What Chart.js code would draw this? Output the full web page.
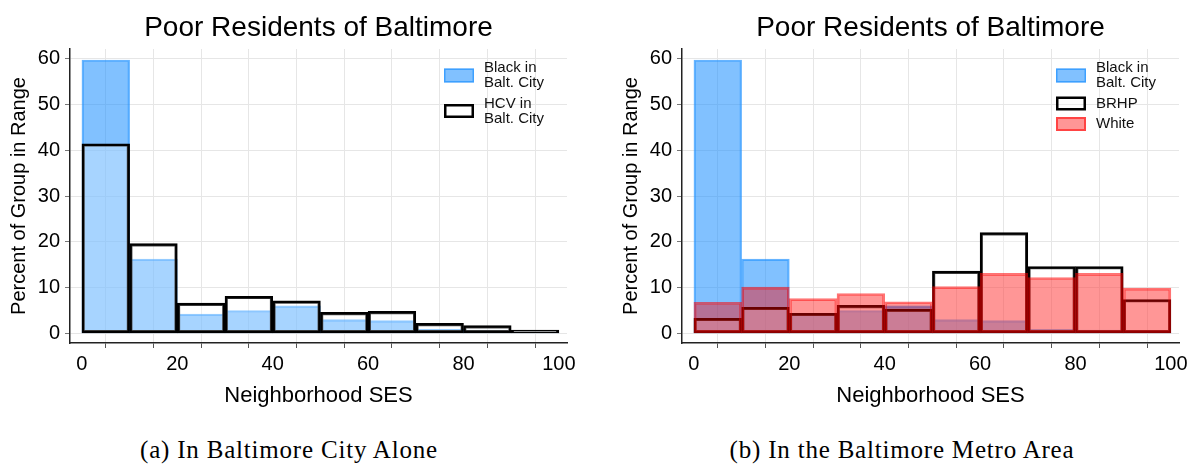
<!DOCTYPE html>
<html>
<head>
<meta charset="utf-8">
<title>Poor Residents of Baltimore</title>
<script src="https://cdn.jsdelivr.net/npm/chart.js@4.4.1/dist/chart.umd.min.js"></script>
<style>
  html, body { margin: 0; padding: 0; background: #fff; }
  body { width: 1194px; height: 468px; position: relative; overflow: hidden; }
  .panel { position: absolute; top: 0; }
  .caption {
    position: absolute; top: 436px; width: 440px; text-align: center;
    font-family: 'Liberation Serif', 'DejaVu Serif', serif; font-size: 25px;
    letter-spacing: 0.8px; color: #000;
  }
</style>
</head>
<body>
<canvas id="cityChart" class="panel" style="left:0" width="582" height="420"></canvas>
<canvas id="metroChart" class="panel" style="left:612px" width="582" height="420"></canvas>
<div class="caption" style="left:69px">(a) In Baltimore City Alone</div>
<div class="caption" style="left:682px">(b) In the Baltimore Metro Area</div>

<script>
// ---------------------------
// Data (percent of group per SES bin)
// ---------------------------
const binCenters = [5, 15, 25, 35, 45, 55, 65, 75, 85, 95];
const xTicks = [0, 10, 20, 30, 40, 50, 60, 70, 80, 90, 100];
const yTicks = [0, 10, 20, 30, 40, 50, 60];

const blackCity = [59.7, 16.2, 4.2, 5.0, 6.0, 3.0, 2.8, 0.9, 0.7, 0.3];
const hcvCity = [41.4, 19.6, 6.6, 8.1, 7.1, 4.6, 4.8, 2.2, 1.7, 0.7];
const brhpMetro = [3.3, 5.7, 4.4, 6.1, 5.3, 13.6, 22.0, 14.6, 14.6, 7.4];
const whiteMetro = [6.8, 10.1, 7.6, 8.7, 6.9, 10.2, 13.1, 12.2, 13.1, 9.9];

const cityLegend = [['Black in', 'Balt. City'], ['HCV in', 'Balt. City']];
const metroLegend = [['Black in', 'Balt. City'], ['BRHP'], ['White']];

const chartTitle = 'Poor Residents of Baltimore';
const xTitle = 'Neighborhood SES';
const yTitle = 'Percent of Group in Range';

// ---------------------------
// Styles
// ---------------------------
const FONT = "'Liberation Sans', Arial, Helvetica, sans-serif";

const blackStyle = {
  backgroundColor: 'rgba(30,144,255,0.56)',
  borderColor: 'rgba(30,144,255,0.68)',
  borderWidth: 1.5
};
const outlineStyle = {
  backgroundColor: 'rgba(255,255,255,0.3)',
  borderColor: '#000',
  borderWidth: 2.5
};
const whiteStyle = {
  backgroundColor: 'rgba(255,0,0,0.41)',
  borderColor: 'rgba(255,0,0,0.55)',
  borderWidth: 2
};

function toPoints(values) {
  return values.map((v, i) => ({ x: binCenters[i], y: v }));
}

// Legend drawn inside the plot, top right
const insetLegend = {
  id: 'insetLegend',
  afterDatasetsDraw(chart, args, opts) {
    const { ctx, chartArea } = chart;
    const x = chartArea.right - 123;
    let y = chartArea.top + 8.75;

    ctx.save();
    ctx.font = '15px ' + FONT;
    ctx.textBaseline = 'middle';
    ctx.textAlign = 'left';

    opts.entries.forEach((lines, i) => {
      const ds = chart.data.datasets[i];
      const h = lines.length * 15 + 5.5;
      const cy = y + h / 2;

      ctx.fillStyle = ds.backgroundColor;
      ctx.fillRect(x, cy - 7, 30, 14);
      ctx.lineWidth = ds.borderWidth;
      ctx.strokeStyle = ds.borderColor;
      ctx.strokeRect(x + ds.borderWidth / 2, cy - 7 + ds.borderWidth / 2,
        30 - ds.borderWidth, 14 - ds.borderWidth);

      ctx.fillStyle = '#111';
      lines.forEach((t, j) => {
        ctx.fillText(t, x + 40, cy + (j - (lines.length - 1) / 2) * 15);
      });
      y += h;
    });
    ctx.restore();
  }
};

function makeChart(canvasId, datasets, legendLines) {
  const ctx = document.getElementById(canvasId);
  if (!ctx || !window.Chart) return;

  return new Chart(ctx, {
    type: 'bar',
    data: { datasets },
    options: {
      responsive: false,
      animation: false,
      layout: { padding: { left: 0, top: 0, bottom: 0, right: 15 } },
      datasets: {
        bar: { barPercentage: 1, categoryPercentage: 1, grouped: false, borderSkipped: false }
      },
      plugins: {
        legend: { display: false },
        tooltip: { enabled: false },
        title: {
          display: true,
          text: chartTitle,
          fullSize: false,
          color: '#000',
          font: { family: FONT, size: 28, weight: 'normal' },
          padding: { top: 11, bottom: 4.4 }
        },
        insetLegend: { entries: legendLines }
      },
      scales: {
        x: {
          type: 'linear',
          min: -2.5,
          max: 101.7,
          offset: false,
          afterBuildTicks: s => { s.ticks = xTicks.map(v => ({ value: v })); },
          afterFit: s => { s.height = 77; },
          ticks: {
            autoSkip: false,
            maxRotation: 0,
            padding: 4,
            color: '#000',
            font: { family: FONT, size: 20 },
            callback: v => (v % 20 === 0 ? v : '')
          },
          grid: { color: '#e6e6e6', tickColor: '#555', tickLength: 5 },
          border: { color: '#222', width: 1.5 },
          title: {
            display: true,
            text: xTitle,
            color: '#000',
            font: { family: FONT, size: 22 },
            padding: { top: 0, bottom: 11 }
          }
        },
        y: {
          min: -2.1,
          max: 62.1,
          afterBuildTicks: s => { s.ticks = yTicks.map(v => ({ value: v })); },
          afterFit: s => { s.width = 70; },
          ticks: {
            padding: 5,
            color: '#000',
            font: { family: FONT, size: 20 }
          },
          grid: { color: '#e6e6e6', tickColor: '#777', tickLength: 5 },
          border: { color: '#222', width: 1.5 },
          title: {
            display: true,
            text: yTitle,
            color: '#000',
            font: { family: FONT, size: 20 },
            padding: { top: 7, bottom: 0 }
          }
        }
      }
    },
    plugins: [insetLegend]
  });
}

// Black bars first (bottom), outlines and white on top
makeChart('cityChart', [
  { label: 'Black in Balt. City', data: toPoints(blackCity), order: 3, ...blackStyle },
  { label: 'HCV in Balt. City', data: toPoints(hcvCity), order: 2, ...outlineStyle }
], cityLegend);

makeChart('metroChart', [
  { label: 'Black in Balt. City', data: toPoints(blackCity), order: 3, ...blackStyle },
  { label: 'BRHP', data: toPoints(brhpMetro), order: 2, ...outlineStyle },
  { label: 'White', data: toPoints(whiteMetro), order: 1, ...whiteStyle }
], metroLegend);
</script>
</body>
</html>
